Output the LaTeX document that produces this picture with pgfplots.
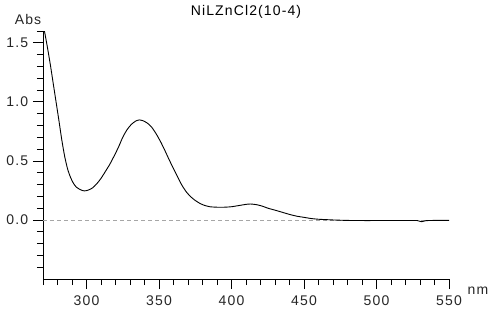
\documentclass[border=0pt]{standalone}
\usepackage{fontspec}
\setmainfont{Liberation Sans}[LetterSpace=8]
\usepackage{pgfplots}
\pgfplotsset{compat=1.18}
\begin{document}
\fontsize{14}{16}\selectfont
\begin{tikzpicture}
\useasboundingbox (-43pt,-43pt) rectangle (447pt,279pt);
\begin{axis}[
  at={(0pt,0pt)}, anchor=south west,
  scale only axis, width=406pt, height=248pt,
  xmin=270, xmax=550, ymin=-0.5, ymax=1.6,
  axis x line*=bottom, axis y line*=left,
  axis line style={-, black, line width=0.8pt},
  xtick={300,350,...,550}, minor xtick={270,280,...,540},
  ytick={0,0.5,1,1.5}, minor ytick={-0.4,-0.3,...,1.6},
  tick align=outside, major tick length=10pt, minor tick length=6pt,
  tick style={black, line width=0.8pt},
  /pgf/number format/assume math mode=true,
  tick label style={font=\fontsize{14}{16}\selectfont, text=black!85},
  yticklabel style={/pgf/number format/.cd, fixed, fixed zerofill, precision=1},
  xticklabel style={/pgf/number format/1000 sep={}},
  xticklabel shift=2pt,
]
\addplot[draw=black!35, line width=0.8pt, dash pattern=on 4pt off 3pt] coordinates {(270,0) (550,0)};
\addplot[black, line width=0.9pt, smooth, tension=0.4] coordinates {
(271,1.60) (273,1.465) (275,1.32) (277,1.16) (279,1.00) (281,0.84) (283,0.675)
(285,0.535) (287,0.43) (289,0.36) (291,0.31) (293,0.278) (296,0.255) (298.5,0.246)
(301,0.252) (304,0.27) (307,0.305) (310,0.352) (313,0.41) (316,0.47) (319,0.54)
(322,0.615) (325,0.70) (328,0.765) (331,0.81) (334,0.838) (336.5,0.847) (339,0.84)
(342,0.82) (345,0.785) (348,0.73) (351,0.665) (354,0.59) (357,0.51) (360,0.435)
(363,0.36) (366,0.29) (369,0.235) (372,0.195) (375,0.165) (378,0.142) (381,0.125)
(385,0.112) (390,0.108) (395,0.108) (400,0.112) (405,0.122) (410,0.132) (413,0.135)
(417,0.13) (421,0.118) (425,0.10) (430,0.083) (435,0.065) (440,0.047) (445,0.032)
(450,0.022) (455,0.012) (460,0.006) (465,0.003) (470,0.0) (480,-0.004) (490,-0.005)
(500,-0.005) (510,-0.005) (520,-0.005) (528,-0.005) (531,-0.015) (534,-0.006)
(540,-0.004) (550,-0.004)
};
\end{axis}
\node at (203pt,267pt) {NiLZnCl2(10-4)};
\node[text=black!85] at (-15pt,259.5pt) {Abs};
\node[text=black!85] at (435pt,-12pt) {nm};
\end{tikzpicture}
\end{document}
